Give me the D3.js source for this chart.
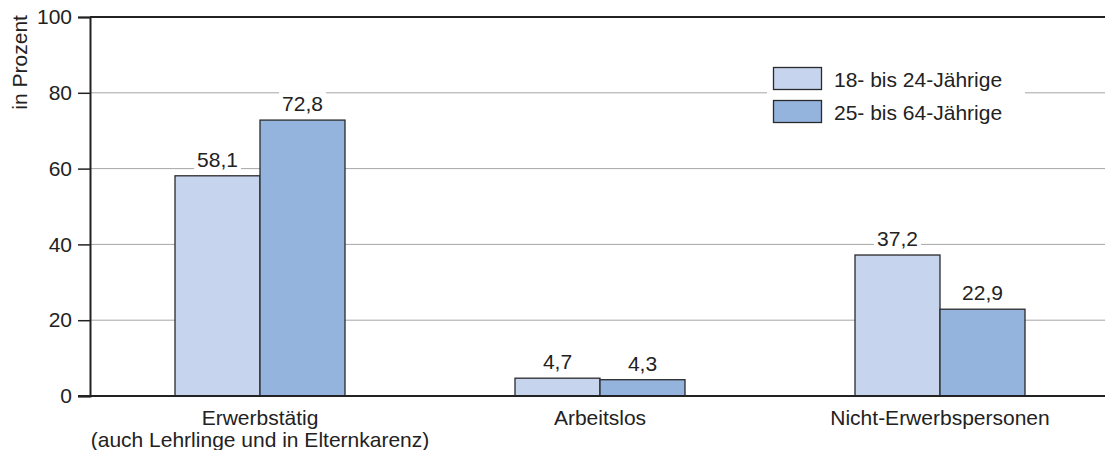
<!DOCTYPE html>
<html>
<head>
<meta charset="utf-8">
<script src="https://cdn.jsdelivr.net/npm/d3@7"></script>
<style>
  body { margin: 0; background: #fff; }
  svg { display: block; font-family: "Liberation Sans", Arial, sans-serif; }
</style>
</head>
<body>
<svg id="chart" width="1105" height="450"></svg>
<script>
// Erwerbsstatus nach Altersgruppe (in Prozent)
const categories = ["Erwerbstätig", "Arbeitslos", "Nicht-Erwerbspersonen"];
const categorySubtitles = ["(auch Lehrlinge und in Elternkarenz)", "", ""];
const seriesNames = ["18- bis 24-Jährige", "25- bis 64-Jährige"];
const values1824 = [58.1, 4.7, 37.2];
const values2564 = [72.8, 4.3, 22.9];
const yTicks = [0, 20, 40, 60, 80, 100];
const colors = ["#c6d4ee", "#94b4de"];

const FONT = 21;
const svg = d3.select("#chart");
const plotLeft = 90, plotRight = 1110, plotTop = 17, plotBottom = 396;

const x = d3.scaleBand().domain(categories).range([plotLeft, plotRight]).padding(0);
const y = d3.scaleLinear().domain([0, 100]).range([plotBottom, plotTop]);
const barW = x.bandwidth() * 0.25;

// gridlines
svg.append("g").selectAll("line")
  .data(yTicks.filter(t => t > 0 && t < 100))
  .join("line")
  .attr("x1", plotLeft).attr("x2", 1105)
  .attr("y1", d => y(d)).attr("y2", d => y(d))
  .attr("stroke", "#a6a6a6").attr("stroke-width", 1);

// top frame line
svg.append("line")
  .attr("x1", plotLeft).attr("x2", 1105)
  .attr("y1", y(100)).attr("y2", y(100))
  .attr("stroke", "#222").attr("stroke-width", 2);

// y axis
const yAxis = d3.axisLeft(y).tickValues(yTicks).tickSize(12).tickPadding(6);
const gy = svg.append("g").attr("transform", `translate(${plotLeft},0)`).call(yAxis);
gy.select(".domain").attr("stroke", "#222").attr("stroke-width", 2);
gy.selectAll(".tick line").attr("stroke", "#222").attr("stroke-width", 1.5);
gy.selectAll(".tick text").attr("font-size", FONT).attr("fill", "#222")
  .attr("font-family", "Liberation Sans, Arial, sans-serif");

svg.append("text")
  .attr("transform", `translate(27,${(y(100) + y(75)) / 2 - 2}) rotate(-90)`)
  .attr("text-anchor", "middle")
  .attr("font-size", FONT).attr("fill", "#222")
  .text("in Prozent");

// bars
const series = [values1824, values2564];
const barsG = svg.append("g");
series.forEach((vals, si) => {
  barsG.selectAll(null)
    .data(categories.map((c, i) => ({ c, v: vals[i] })))
    .join("rect")
    .attr("x", d => x(d.c) + x.bandwidth() / 2 + (si - 1) * barW)
    .attr("y", d => y(d.v))
    .attr("width", barW)
    .attr("height", d => y(0) - y(d.v))
    .attr("fill", colors[si])
    .attr("stroke", "#2a2a2a").attr("stroke-width", 1.3);
});

// value labels with white backing
const fmt = v => v.toFixed(1).replace(".", ",");
series.forEach((vals, si) => {
  categories.forEach((c, i) => {
    const cx = x(c) + x.bandwidth() / 2 + (si - 0.5) * barW;
    const ty = y(vals[i]) - 9;
    const g = svg.append("g");
    const t = g.append("text")
      .attr("x", cx).attr("y", ty)
      .attr("text-anchor", "middle")
      .attr("font-size", FONT).attr("fill", "#222")
      .text(fmt(vals[i]));
    const bb = t.node().getBBox();
    g.insert("rect", "text")
      .attr("x", bb.x - 3).attr("y", bb.y)
      .attr("width", bb.width + 6).attr("height", bb.height)
      .attr("fill", "#fff");
  });
});

// x baseline
svg.append("line")
  .attr("x1", plotLeft - 12).attr("x2", 1105)
  .attr("y1", y(0)).attr("y2", y(0))
  .attr("stroke", "#222").attr("stroke-width", 2);

// category labels
categories.forEach((c, i) => {
  const cx = x(c) + x.bandwidth() / 2;
  svg.append("text").attr("x", cx).attr("y", 425)
    .attr("text-anchor", "middle").attr("font-size", FONT).attr("fill", "#222")
    .text(c);
  if (categorySubtitles[i]) {
    svg.append("text").attr("x", cx).attr("y", 447)
      .attr("text-anchor", "middle").attr("font-size", FONT).attr("fill", "#222")
      .text(categorySubtitles[i]);
  }
});

// legend
const lg = svg.append("g");
lg.append("rect").attr("x", 767).attr("y", 60).attr("width", 258).attr("height", 70).attr("fill", "#fff");
seriesNames.forEach((name, i) => {
  const yy = 67 + i * 33;
  lg.append("rect").attr("x", 773.5).attr("y", yy + 0.5).attr("width", 48).attr("height", 22)
    .attr("fill", colors[i]).attr("stroke", "#2a2a2a").attr("stroke-width", 1.3);
  lg.append("text").attr("x", 834).attr("y", yy + 20)
    .attr("font-size", FONT).attr("fill", "#222").text(name);
});
</script>
</body>
</html>
